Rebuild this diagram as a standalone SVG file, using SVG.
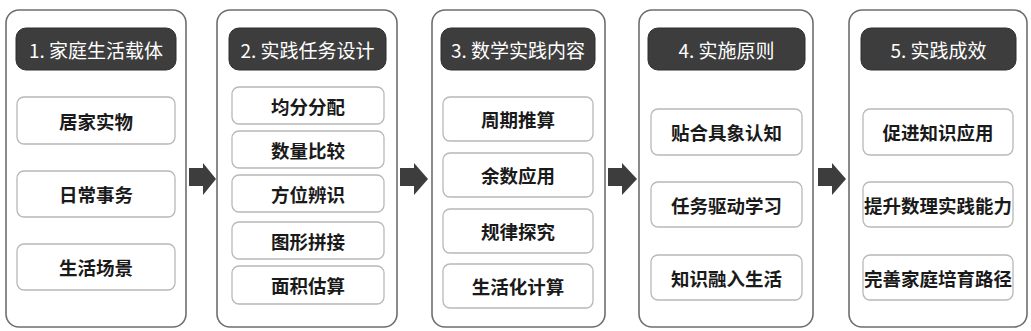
<svg xmlns="http://www.w3.org/2000/svg" width="1031" height="331" viewBox="0 0 1031 331">
<style>
.outer{fill:#fff;stroke:#6e6e6e;stroke-width:1.6}
.head{fill:#3d3d3d;stroke:#2e2e2e;stroke-width:1}
.item{fill:#fff;stroke:#b8b8b8;stroke-width:1.3}
.ht{font-family:"Noto Sans CJK SC","Noto Sans",sans-serif;font-size:19px;fill:#fff;text-anchor:middle;dominant-baseline:central}
.it{font-family:"Noto Sans CJK SC","Noto Sans",sans-serif;font-size:18.5px;font-weight:bold;fill:#1a1a1a;text-anchor:middle;dominant-baseline:central}
.arr{fill:#3d3d3d}
</style>
<rect width="1031" height="331" fill="#fff"/>
<g id="col1">
<rect class="outer" x="6" y="10" width="180" height="317" rx="13"/>
<rect class="head" x="16" y="28" width="160" height="42" rx="10"/>
<text class="ht" x="96" y="49">1. 家庭生活载体</text>
<g id="c1i1"><rect class="item" x="17" y="97" width="158" height="47" rx="7"/><text class="it" x="96" y="120.5">居家实物</text></g>
<g id="c1i2"><rect class="item" x="17" y="171" width="158" height="46" rx="7"/><text class="it" x="96" y="194">日常事务</text></g>
<g id="c1i3"><rect class="item" x="17" y="244" width="158" height="46" rx="7"/><text class="it" x="96" y="267">生活场景</text></g>
</g>
<g id="col2">
<rect class="outer" x="217" y="10" width="180" height="317" rx="13"/>
<rect class="head" x="229" y="28" width="157" height="42" rx="10"/>
<text class="ht" x="307.5" y="49">2. 实践任务设计</text>
<g id="c2i1"><rect class="item" x="232" y="87" width="152" height="37" rx="7"/><text class="it" x="308" y="105.5">均分分配</text></g>
<g id="c2i2"><rect class="item" x="232" y="131" width="152" height="37" rx="7"/><text class="it" x="308" y="149.5">数量比较</text></g>
<g id="c2i3"><rect class="item" x="232" y="175" width="152" height="37" rx="7"/><text class="it" x="308" y="193.5">方位辨识</text></g>
<g id="c2i4"><rect class="item" x="232" y="222" width="152" height="37" rx="7"/><text class="it" x="308" y="240.5">图形拼接</text></g>
<g id="c2i5"><rect class="item" x="232" y="266" width="152" height="38" rx="7"/><text class="it" x="308" y="285">面积估算</text></g>
</g>
<g id="col3">
<rect class="outer" x="432" y="10" width="173" height="317" rx="13"/>
<rect class="head" x="441" y="28" width="154" height="42" rx="10"/>
<text class="ht" x="518" y="49">3. 数学实践内容</text>
<g id="c3i1"><rect class="item" x="443" y="97" width="150" height="44" rx="7"/><text class="it" x="518" y="119">周期推算</text></g>
<g id="c3i2"><rect class="item" x="443" y="153" width="150" height="44" rx="7"/><text class="it" x="518" y="175">余数应用</text></g>
<g id="c3i3"><rect class="item" x="443" y="209" width="150" height="44" rx="7"/><text class="it" x="518" y="231">规律探究</text></g>
<g id="c3i4"><rect class="item" x="443" y="264" width="150" height="44" rx="7"/><text class="it" x="518" y="286">生活化计算</text></g>
</g>
<g id="col4">
<rect class="outer" x="639" y="10" width="174" height="317" rx="13"/>
<rect class="head" x="648" y="28" width="157" height="42" rx="10"/>
<text class="ht" x="726.5" y="49">4. 实施原则</text>
<g id="c4i1"><rect class="item" x="651" y="109" width="151" height="46" rx="7"/><text class="it" x="726.5" y="132">贴合具象认知</text></g>
<g id="c4i2"><rect class="item" x="651" y="182" width="151" height="45" rx="7"/><text class="it" x="726.5" y="204.5">任务驱动学习</text></g>
<g id="c4i3"><rect class="item" x="651" y="255" width="151" height="45" rx="7"/><text class="it" x="726.5" y="277.5">知识融入生活</text></g>
</g>
<g id="col5">
<rect class="outer" x="849" y="10" width="178" height="317" rx="13"/>
<rect class="head" x="861" y="28" width="155" height="42" rx="10"/>
<text class="ht" x="938.5" y="49">5. 实践成效</text>
<g id="c5i1"><rect class="item" x="863" y="109" width="150" height="46" rx="7"/><text class="it" x="938" y="132">促进知识应用</text></g>
<g id="c5i2"><rect class="item" x="863" y="182" width="150" height="45" rx="7"/><text class="it" x="938" y="204.5">提升数理实践能力</text></g>
<g id="c5i3"><rect class="item" x="863" y="255" width="150" height="45" rx="7"/><text class="it" x="938" y="277.5">完善家庭培育路径</text></g>
</g>
<g id="connectors">
<polygon class="arr" points="189,168 203,168 203,163 216,179 203,195 203,186 189,186"/>
<polygon class="arr" points="400,168 414,168 414,163 428,179 414,195 414,186 400,186"/>
<polygon class="arr" points="608,168 622,168 622,163 637,179 622,195 622,186 608,186"/>
<polygon class="arr" points="818,168 832,168 832,163 846,179 832,195 832,186 818,186"/>
</g>
</svg>
